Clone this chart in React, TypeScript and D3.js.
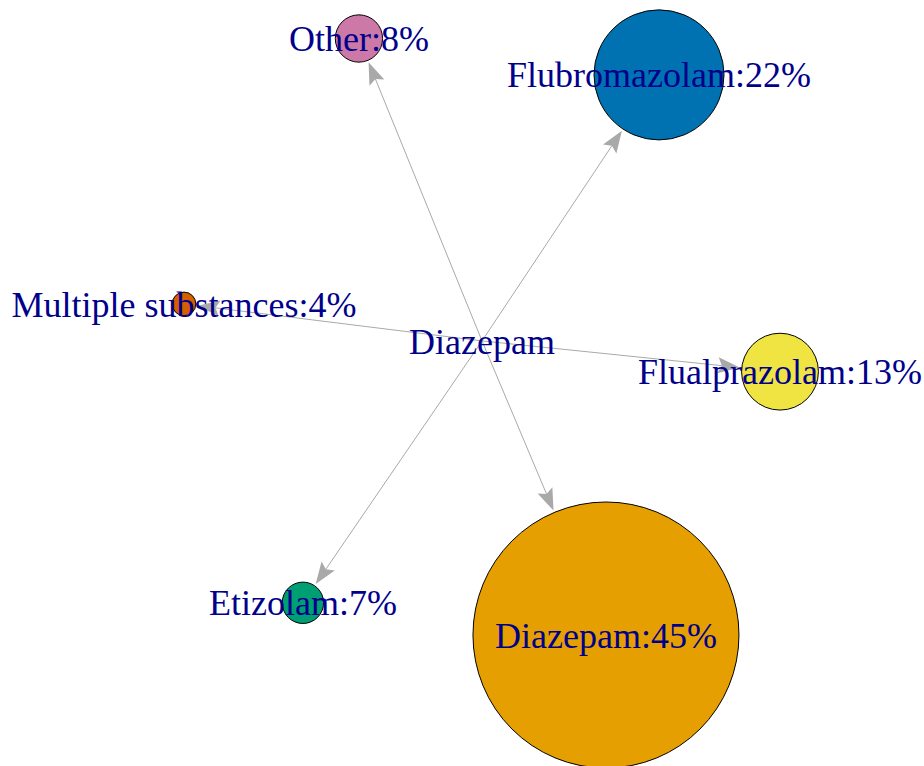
import React, { useEffect, useRef } from 'react';
import * as d3 from 'd3';

// network: one source vertex linked to every substance
const centerName = 'Diazepam';
const centerX = 0;
const centerY = -0.014;

const names = ['Other', 'Flubromazolam', 'Multiple substances', 'Flualprazolam', 'Etizolam', 'Diazepam'];
const shares = [8, 22, 4, 13, 7, 45];
const layoutX = [-0.413, 0.594, -1, 1, -0.601, 0.416];
const layoutY = [1, 0.878, 0.11, -0.117, -0.892, -1];
const colors = ['#CC79A7', '#0072B2', '#D55E00', '#F0E442', '#009E73', '#E69F00'];

const App = () => {
  const ref = useRef<SVGSVGElement>(null);

  useEffect(() => {
    const width = 924;
    const height = 766;
    const svg = d3.select(ref.current);
    svg.selectAll('*').remove();
    svg.attr('width', width).attr('height', height);

    const x = d3.scaleLinear().domain([-1, 1]).range([184, 780]);
    const y = d3.scaleLinear().domain([-1, 1]).range([635, 38.5]);
    const r = d3.scaleLinear().domain([0, 45]).range([0, 133]);

    const nodes = names.map((name, i) => ({
      name,
      share: shares[i],
      cx: x(layoutX[i]),
      cy: y(layoutY[i]),
      rad: r(shares[i]),
      color: colors[i],
    }));
    const sx = x(centerX);
    const sy = y(centerY);

    const edges = svg.append('g');
    const arrowLen = 22;
    const arrowHalf = 8;
    const notch = 4;
    nodes.forEach((n) => {
      const dx = n.cx - sx;
      const dy = n.cy - sy;
      const len = Math.sqrt(dx * dx + dy * dy);
      const ux = dx / len;
      const uy = dy / len;
      const tipX = n.cx - ux * (n.rad + 2);
      const tipY = n.cy - uy * (n.rad + 2);
      const baseX = tipX - ux * arrowLen;
      const baseY = tipY - uy * arrowLen;
      edges
        .append('line')
        .attr('x1', sx)
        .attr('y1', sy)
        .attr('x2', baseX + ux * notch)
        .attr('y2', baseY + uy * notch)
        .attr('stroke', '#A9A9A9')
        .attr('stroke-width', 1);
      const path = d3.path();
      path.moveTo(tipX, tipY);
      path.lineTo(baseX - uy * arrowHalf, baseY + ux * arrowHalf);
      path.lineTo(baseX + ux * notch, baseY + uy * notch);
      path.lineTo(baseX + uy * arrowHalf, baseY - ux * arrowHalf);
      path.closePath();
      edges.append('path').attr('d', path.toString()).attr('fill', '#A9A9A9');
    });

    svg
      .append('g')
      .selectAll('circle')
      .data(nodes)
      .enter()
      .append('circle')
      .attr('cx', (d) => d.cx)
      .attr('cy', (d) => d.cy)
      .attr('r', (d) => d.rad)
      .attr('fill', (d) => d.color)
      .attr('stroke', '#000')
      .attr('stroke-width', 1);

    const labels = svg
      .append('g')
      .attr('font-family', '"Liberation Serif", "Times New Roman", serif')
      .attr('font-size', 36)
      .attr('fill', '#00008B')
      .attr('text-anchor', 'middle');

    labels
      .selectAll('text')
      .data(nodes)
      .enter()
      .append('text')
      .attr('x', (d) => d.cx)
      .attr('y', (d) => d.cy)
      .attr('dy', '0.35em')
      .text((d) => `${d.name}:${d.share}%`);

    labels
      .append('text')
      .attr('x', sx)
      .attr('y', sy)
      .attr('dy', '0.35em')
      .text(centerName);
  }, []);

  return (
    <svg
      ref={ref}
      style={{ position: 'absolute', left: 0, top: 0, background: '#fff' }}
    />
  );
};

export default App;
